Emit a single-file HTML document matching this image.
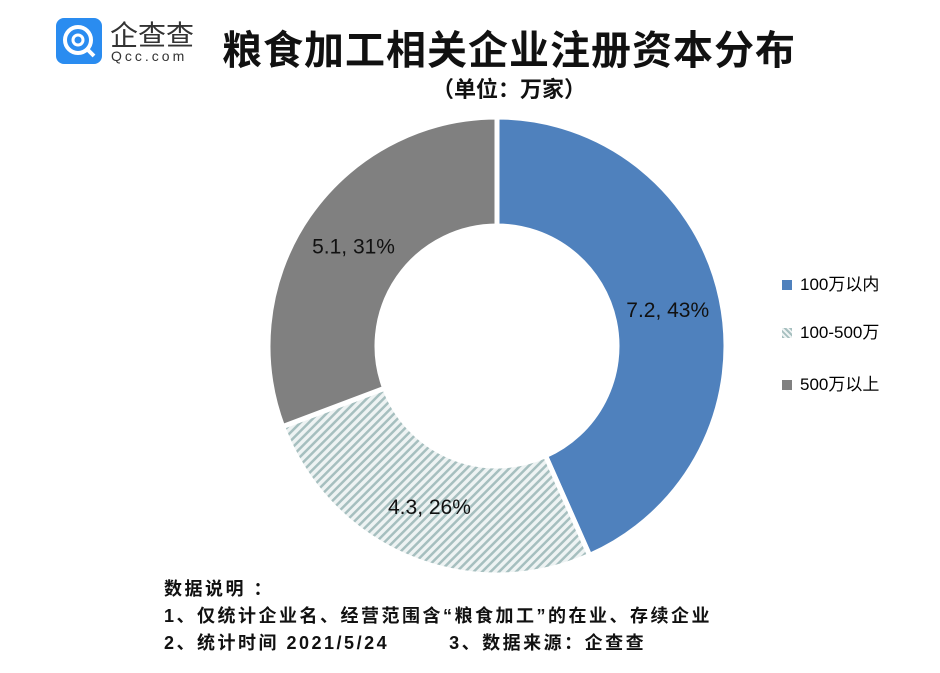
<!DOCTYPE html>
<html><head><meta charset="utf-8"><style>
body{margin:0;background:#fff;font-family:"Liberation Sans","Noto Sans CJK SC",sans-serif;}
#wrap{position:relative;width:940px;height:673px;overflow:hidden;}
.t{position:absolute;white-space:nowrap;}
</style></head><body>
<div id="wrap">
<div style="position:absolute;left:56px;top:18px;width:46px;height:46px;background:#2a8cf0;border-radius:8px;">
<svg width="46" height="46"><circle cx="22" cy="22" r="13" fill="none" stroke="#fff" stroke-width="4"/><circle cx="22" cy="22" r="5" fill="none" stroke="#fff" stroke-width="3"/><line x1="31" y1="31" x2="38" y2="38" stroke="#fff" stroke-width="4"/></svg></div>
<div class="t" style="left:110px;top:14px;font-size:28px;color:#333;">企查查</div>
<div class="t" style="left:111px;top:48px;font-size:14px;color:#333;letter-spacing:3px;">Qcc.com</div>
<div class="t" style="left:222px;top:18px;font-size:40px;font-weight:bold;color:#111;letter-spacing:1px;">粮食加工相关企业注册资本分布</div>
<div class="t" style="left:432px;top:72px;font-size:22px;font-weight:bold;color:#111;">（单位：万家）</div>
<svg id="pie" width="940" height="673" style="position:absolute;left:0;top:0">
<defs><pattern id="hatch" width="6" height="6" patternUnits="userSpaceOnUse" patternTransform="rotate(45)">
<rect width="6" height="6" fill="#eef3f3"/><rect x="0" y="0" width="2.5" height="6" fill="#a6bfbf"/></pattern></defs>
</svg>
<div>
<div class="t" style="left:782px;top:270px;font-size:17px;"><span style="display:inline-block;width:10px;height:10px;background:#4f81bd;margin-right:8px;"></span>100万以内</div>
<div class="t" style="left:782px;top:318px;font-size:17px;"><span style="display:inline-block;width:10px;height:10px;background:repeating-linear-gradient(45deg,#a6bfbf 0 2px,#eef3f3 2px 4px);margin-right:8px;"></span>100-500万</div>
<div class="t" style="left:782px;top:370px;font-size:17px;"><span style="display:inline-block;width:10px;height:10px;background:#808080;margin-right:8px;"></span>500万以上</div>
</div>
<div style="position:absolute;left:164px;top:576px;font-size:18px;font-weight:bold;line-height:27px;color:#111;letter-spacing:2.5px;">
<div>数据说明 ：</div>
<div>1、仅统计企业名、经营范围含“粮食加工”的在业、存续企业</div>
<div>2、统计时间 2021/5/24&nbsp;&nbsp;&nbsp;&nbsp;&nbsp;&nbsp;&nbsp;&nbsp;3、数据来源：企查查</div>
</div>
</div>
<script>
const categories=["100万以内","100-500万","500万以上"];
const values=[7.2,4.3,5.1];
const percents=["43%","26%","31%"];
const fills=["#4f81bd","url(#hatch)","#808080"];
const svg=document.getElementById('pie');
const cx=497,cy=346,R=229,r=120;
const total=values.reduce((a,b)=>a+b,0);
let a0=-Math.PI/2;
function pt(a,rad){return [cx+rad*Math.cos(a),cy+rad*Math.sin(a)];}
values.forEach((v,i)=>{
  const a1=a0+v/total*2*Math.PI;
  const large=(a1-a0)>Math.PI?1:0;
  const [x0,y0]=pt(a0,R),[x1,y1]=pt(a1,R),[x2,y2]=pt(a1,r),[x3,y3]=pt(a0,r);
  const p=document.createElementNS('http://www.w3.org/2000/svg','path');
  p.setAttribute('d',`M${x0},${y0}A${R},${R} 0 ${large} 1 ${x1},${y1}L${x2},${y2}A${r},${r} 0 ${large} 0 ${x3},${y3}Z`);
  p.setAttribute('fill',fills[i]);
  p.setAttribute('stroke','#fff');
  p.setAttribute('stroke-width','5');
  
  
  svg.appendChild(p);
  const am=(a0+a1)/2;
  const [lx,ly]=pt(am,(R+r)/2);
  const t=document.createElementNS('http://www.w3.org/2000/svg','text');
  t.setAttribute('x',lx);t.setAttribute('y',ly+7);
  t.setAttribute('text-anchor','middle');
  t.setAttribute('font-size','21');
  t.setAttribute('fill','#111');
  t.setAttribute('font-family','Liberation Sans, sans-serif');
  t.textContent=values[i]+', '+percents[i];
  
  
  svg.appendChild(t);
  a0=a1;
});
</script>
</body></html>
